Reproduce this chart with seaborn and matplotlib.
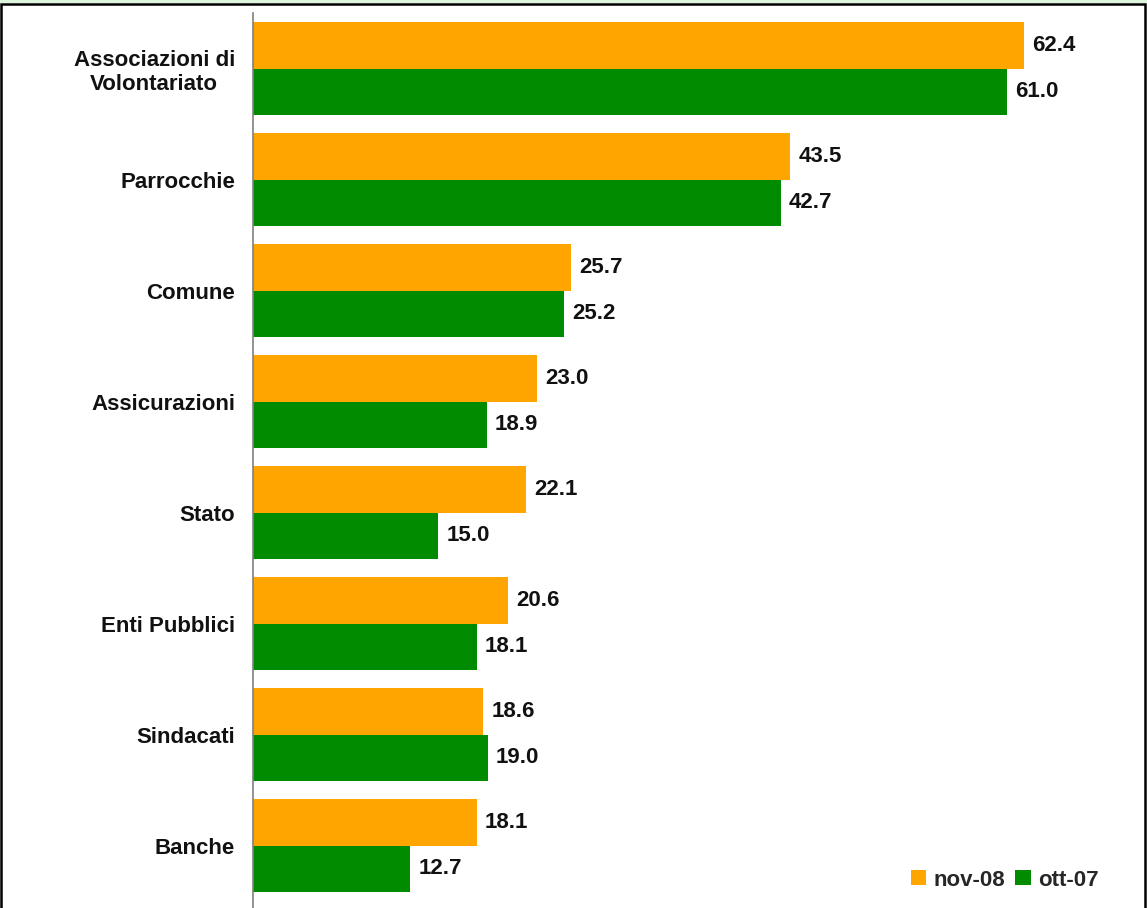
import matplotlib
matplotlib.use("Agg")
import matplotlib.pyplot as plt
from matplotlib.patches import Rectangle
import pandas as pd
import seaborn as sns

# ---------------------------------------------------------------------------
# Daten
# ---------------------------------------------------------------------------
CATEGORIES = [
    "Associazioni di\nVolontariato",
    "Parrocchie",
    "Comune",
    "Assicurazioni",
    "Stato",
    "Enti Pubblici",
    "Sindacati",
    "Banche",
]
NOV_08 = [62.4, 43.5, 25.7, 23.0, 22.1, 20.6, 18.6, 18.1]
OTT_07 = [61.0, 42.7, 25.2, 18.9, 15.0, 18.1, 19.0, 12.7]
PERIODS = ["nov-08", "ott-07"]

ORANGE = "#FFA500"
GREEN = "#008B00"

df = pd.DataFrame({
    "categoria": CATEGORIES * 2,
    "valore": NOV_08 + OTT_07,
    "periodo": [PERIODS[0]] * len(CATEGORIES) + [PERIODS[1]] * len(CATEGORIES),
})

# ---------------------------------------------------------------------------
# Stil
# ---------------------------------------------------------------------------
sns.set_theme(style="white")
plt.rcParams["font.family"] = ["Liberation Sans", "DejaVu Sans"]

W, H = 1147, 908
fig = plt.figure(figsize=(W / 100, H / 100), dpi=100)
ax = fig.add_axes([253 / W, 0, (1145 - 253) / W, (H - 13) / H])

sns.barplot(
    data=df,
    x="valore",
    y="categoria",
    hue="periodo",
    hue_order=PERIODS,
    order=CATEGORIES,
    orient="h",
    palette={PERIODS[0]: ORANGE, PERIODS[1]: GREEN},
    width=0.84,
    saturation=1,
    errorbar=None,
    linewidth=0,
    ax=ax,
)

for cont in ax.containers:
    ax.bar_label(cont, fmt="%.1f", padding=6, fontsize=16,
                 fontweight="bold", color="#111111")

ax.set_xlim(0, 72.2)
ax.set_ylim(7.563, -0.5)
ax.set_xlabel("")
ax.set_ylabel("")
ax.set_xticks([])
for side in ("top", "right", "bottom"):
    ax.spines[side].set_visible(False)
ax.spines["left"].set_color("#808080")
ax.spines["left"].set_linewidth(1.2)
ax.tick_params(axis="y", length=0, pad=13)
for lab in ax.get_yticklabels():
    lab.set_fontsize(16)
    lab.set_fontweight("bold")
    lab.set_multialignment("center")
    lab.set_color("#111111")

ax.legend(
    loc="center right",
    bbox_to_anchor=(1099 / W, 1 - 880 / H),
    bbox_transform=fig.transFigure,
    ncol=2,
    frameon=False,
    prop={"weight": "bold", "size": 16},
    handlelength=0.68,
    handleheight=0.68,
    handletextpad=0.35,
    columnspacing=0.45,
    borderpad=0,
    borderaxespad=0,
)

# Rahmen
fig.patches.append(Rectangle((0, 1 - 3 / H), 1, 3 / H, transform=fig.transFigure,
                             facecolor="#DDF5DD", edgecolor="none"))
fig.patches.append(Rectangle((1.2 / W, -0.1), (1144.5 - 1.2) / W, 1.1 - 4.5 / H,
                             transform=fig.transFigure, facecolor="none",
                             edgecolor="black", linewidth=1.8))

fig.savefig("out.png", dpi=100)
